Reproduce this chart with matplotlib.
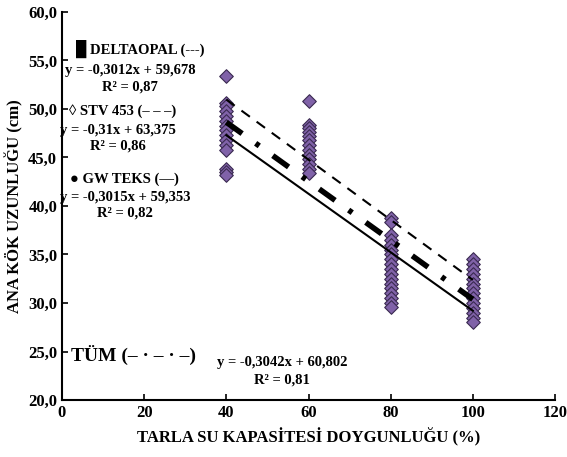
import numpy as np
import matplotlib.pyplot as plt

plt.rcParams['font.family'] = ['Liberation Serif', 'DejaVu Serif']
plt.rcParams['font.weight'] = 'bold'

# observed root lengths per field capacity level
x40 = [53.4, 50.6, 50.3, 49.8, 49.3, 48.8, 48.2, 47.8, 47.3, 46.8, 46.3, 45.8, 43.8, 43.5, 43.2]
x60 = [50.8, 48.3, 48.0, 47.6, 47.2, 46.8, 46.3, 45.8, 45.3, 44.8, 44.3, 43.8, 43.4]
x80 = [38.8, 38.3, 37.0, 36.5, 36.0, 35.5, 35.0, 34.5, 34.0, 33.5, 33.0, 32.5, 32.0,
       31.5, 31.0, 30.5, 30.0, 29.6]
x100 = [34.5, 34.0, 33.5, 33.0, 32.5, 32.0, 31.5, 31.0, 30.5, 30.0, 29.5, 29.0, 28.5, 28.0]
levels = [40, 60, 80, 100]

# regression lines (slope, intercept)
stv = (-0.31, 63.375)
gw = (-0.3015, 59.353)
tum = (-0.3042, 60.802)

fig = plt.figure(figsize=(5.67, 4.57), dpi=100)
ax = fig.add_axes([62/567, 1 - 400/457, 493/567, 388/457])

purple = '#8062A8'
for lv, vals in zip(levels, [x40, x60, x80, x100]):
    ax.scatter([lv]*len(vals), vals, marker='D', s=48, color=purple,
               edgecolor='#3a2a50', linewidth=0.8, zorder=3)

xl = np.array([40, 100])
ax.plot(xl, stv[0]*xl + stv[1], color='black', lw=1.5, ls=(0, (5, 4)), zorder=4)
ax.plot(xl, gw[0]*xl + gw[1], color='black', lw=1.5, ls='-', zorder=4)
ax.plot(xl, tum[0]*xl + tum[1], color='black', lw=4, ls=(0, (3.5, 3, 0.8, 3)), zorder=4)

ax.set_xlim(0, 120)
ax.set_ylim(20, 60)
ax.set_xticks(range(0, 121, 20))
ax.set_yticks(range(20, 61, 5))
ax.set_yticklabels([f'{v:.1f}'.replace('.', ',') for v in range(20, 61, 5)])
ax.tick_params(direction='in', labelsize=12, width=1.2, length=4)
for lab in ax.get_xticklabels() + ax.get_yticklabels():
    lab.set_fontweight('bold')
ax.spines['top'].set_visible(False)
ax.spines['right'].set_visible(False)
ax.spines['left'].set_linewidth(1.5)
ax.spines['bottom'].set_linewidth(1.5)

ax.set_xlabel('TARLA SU KAPASİTESİ DOYGUNLUĞU (%)', fontsize=12, fontweight='bold')
ax.set_ylabel('ANA KÖK UZUNLUĞU (cm)', fontsize=12, fontweight='bold')

fs = 10.5
kw = dict(ha='center', va='center', fontsize=fs, fontweight='bold')
ax.text(19.0, 56.2, '█ DELTAOPAL (---)', **kw)
ax.text(16.6, 54.0, 'y = -0,3012x + 59,678', **kw)
ax.text(16.6, 52.3, 'R² = 0,87', **kw)
ax.text(14.8, 49.8, '◊ STV 453 (– – –)', **kw)
ax.text(13.6, 47.8, 'y = -0,31x + 63,375', **kw)
ax.text(13.6, 46.2, 'R² = 0,86', **kw)
ax.text(15.3, 42.8, '● GW TEKS (—)', **kw)
ax.text(15.3, 40.9, 'y = -0,3015x + 59,353', **kw)
ax.text(15.3, 39.3, 'R² = 0,82', **kw)
ax.text(17.5, 24.6, 'TÜM (– · – · –)', ha='center', va='center', fontsize=14, fontweight='bold')
ax.text(53.5, 23.9, 'y = -0,3042x + 60,802', **kw)
ax.text(53.5, 22.1, 'R² = 0,81', **kw)

fig.savefig('out.png', dpi=100)
